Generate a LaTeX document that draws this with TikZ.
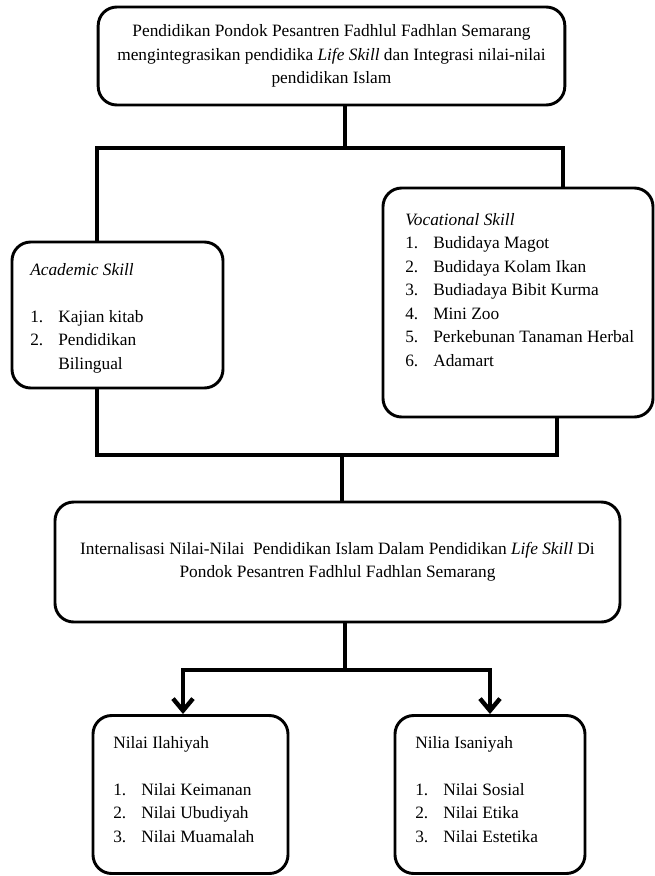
\documentclass[tikz,border=0pt]{standalone}
\usepackage{fontspec}
\setmainfont{Liberation Serif}
\usetikzlibrary{arrows.meta}

\newcommand{\itm}[2]{\makebox[21pt][l]{#1}#2}

\begin{document}
\begin{tikzpicture}[x=0.75pt,y=-0.75pt,
		font=\fontsize{13}{17.6}\selectfont,
		frame/.style={rectangle, rounded corners=14pt, draw, line width=2.2pt, inner sep=0pt},
		conn/.style={line width=3.3pt},
		listtext/.style={align=left, inner sep=0pt, anchor=north west},
		tip/.style={-{Straight Barb[length=9pt,width=15pt]}}]
		
		\useasboundingbox (0,0) rectangle (655,876);
		
		% Frames
		
		\node[frame, align=center, minimum width=350pt, minimum height=73.5pt] 
		(top) at (331.5,56) {Pendidikan Pondok Pesantren Fadhlul Fadhlan Semarang\\
			mengintegrasikan pendidika \textit{Life Skill} dan Integrasi nilai-nilai\\
			pendidikan Islam};
		
		\node[frame, minimum width=158.25pt, minimum height=109.5pt] 
		(acad) at (117.5,315) {};
		
		\node[frame, minimum width=202.5pt, minimum height=171.75pt] 
		(voc) at (518,302.5) {};
		
		\node[frame, align=center, minimum width=423.75pt, minimum height=90pt] 
		(mid) at (337.5,562) {Internalisasi Nilai-Nilai\ \ Pendidikan Islam Dalam Pendidikan \textit{Life Skill} Di\\
			Pondok Pesantren Fadhlul Fadhlan Semarang};
		
		\node[frame, minimum width=146.25pt, minimum height=118.5pt] 
		(ilah) at (190.5,794.5) {};
		
		\node[frame, minimum width=142.5pt, minimum height=118.5pt] 
		(insan) at (490,794.5) {};
		
		% Lists
		
		\node[listtext] (acadText) at (30,263) {\textit{Academic Skill}\\[17.6pt]
			\itm{1.}{Kajian kitab}\\
			\itm{2.}{Pendidikan}\\
			\itm{}{Bilingual}};
		
		\node[listtext] (vocText) at (405,213) {\textit{Vocational Skill}\\
			\itm{1.}{Budidaya Magot}\\
			\itm{2.}{Budidaya Kolam Ikan}\\
			\itm{3.}{Budiadaya Bibit Kurma}\\
			\itm{4.}{Mini Zoo}\\
			\itm{5.}{Perkebunan Tanaman Herbal}\\
			\itm{6.}{Adamart}};
		
		\node[listtext] (ilahText) at (113,736) {Nilai Ilahiyah\\[17.6pt]
			\itm{1.}{Nilai Keimanan}\\
			\itm{2.}{Nilai Ubudiyah}\\
			\itm{3.}{Nilai Muamalah}};
		
		\node[listtext] (insanText) at (415,736) {Nilia Isaniyah\\[17.6pt]
			\itm{1.}{Nilai Sosial}\\
			\itm{2.}{Nilai Etika}\\
			\itm{3.}{Nilai Estetika}};
		
		% Edges...
		
		\coordinate (topBar) at (345,148);
		\coordinate (barL) at (97,148);
		\coordinate (barR) at (563,148);
		
		\draw[conn] (top.south -| topBar) -- (topBar);
		\draw[conn] (acad.north -| barL) -- (barL) -- (barR) -- (voc.north -| barR);
		
		\coordinate (lowL) at (97,455);
		\coordinate (lowR) at (557,455);
		\coordinate (lowMid) at (342,455);
		
		\draw[conn] (acad.south -| lowL) -- (lowL) -- (lowR) -- (voc.south -| lowR);
		\draw[conn] (lowMid) -- (mid.north -| lowMid);
		
		\coordinate (fork) at (345,670);
		\coordinate (forkL) at (183,670);
		\coordinate (forkR) at (490,670);
		
		\draw[conn] (mid.south -| fork) -- (fork);
		\draw[conn, {Straight Barb[length=9pt,width=15pt]}-{Straight Barb[length=9pt,width=15pt]}] 
		(ilah.north -| forkL) -- (forkL) -- (forkR) -- (insan.north -| forkR);
		
	\end{tikzpicture}
\end{document}
